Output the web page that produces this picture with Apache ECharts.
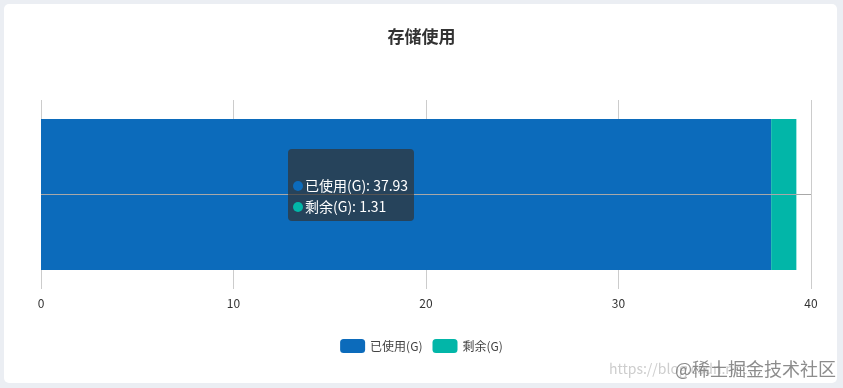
<!DOCTYPE html>
<html><head><meta charset="utf-8">
<script src="https://cdn.jsdelivr.net/npm/echarts@6/dist/echarts.min.js"></script>
<style>
html,body{margin:0;padding:0;width:843px;height:388px;background:#ebeef3;overflow:hidden;}
#card{position:absolute;left:4px;top:4px;width:833px;height:379px;background:#fff;border-radius:5px;}
#chart{position:absolute;left:0;top:0;width:843px;height:388px;}
</style></head>
<body><div id="card"></div><div id="chart"></div>
<script>
var categories = [''];
var seriesNames = ['已使用(G)', '剩余(G)'];
var usedValues = [37.93];
var freeValues = [1.31];
var xTicks = [0, 10, 20, 30, 40];

var font = '"Noto Sans CJK SC", "Noto Sans", sans-serif';
var chart = echarts.init(document.getElementById('chart'));
chart.setOption({
  backgroundColor: 'transparent',
  textStyle: {fontFamily: font},
  title: {text: '存储使用', left: 'center', top: 23,
    textStyle: {fontSize: 17, fontWeight: 'bold', color: '#333', fontFamily: font}},
  color: ['#0c6bbb', '#02b6a8'],
  tooltip: {
    trigger: 'axis', alwaysShowContent: true, triggerOn: 'none',
    backgroundColor: 'rgba(50,50,50,0.7)', borderWidth: 0, padding: [5, 6, 4, 5],
    textStyle: {color: '#fff', fontSize: 14, fontFamily: font},
    extraCssText: 'border-radius:4px;box-shadow:none;line-height:21px;',
    position: function () { return [288, 149]; },
    axisPointer: {type: 'line', lineStyle: {color: '#a8a8a8', width: 1, type: 'solid'}},
    formatter: function (params) {
      var s = params[0].name + '<br/>';
      params.forEach(function (p, i) {
        s += '<span style="display:inline-block;width:10px;height:10px;border-radius:5px;margin-right:2px;background:' + p.color + '"></span>' + p.seriesName + ': ' + p.value + (i < params.length - 1 ? '<br/>' : '');
      });
      return s;
    }
  },
  legend: {data: seriesNames, bottom: 30, left: 'center', itemWidth: 25, itemHeight: 14, itemGap: 10,
    textStyle: {fontSize: 12, color: '#444', fontFamily: font}},
  grid: {left: 41, right: 32, top: 100, bottom: 99},
  xAxis: {type: 'value', min: xTicks[0], max: xTicks[xTicks.length - 1], interval: 10,
    axisLine: {show: false}, axisTick: {show: false},
    axisLabel: {color: '#333', fontSize: 12, margin: 8, fontFamily: font},
    splitLine: {lineStyle: {color: '#ccc'}}},
  yAxis: {type: 'category', data: categories, axisLine: {show: false}, axisTick: {show: false}, axisLabel: {show: false}},
  series: [
    {name: seriesNames[0], type: 'bar', stack: 'total', barCategoryGap: '20%', emphasis: {disabled: true}, data: usedValues},
    {name: seriesNames[1], type: 'bar', stack: 'total', barCategoryGap: '20%', emphasis: {disabled: true}, data: freeValues}
  ],
  graphic: [
    {type: 'text', left: 609, top: 362, silent: true, style: {text: 'https://blog.csdn.net', fontSize: 14, fill: 'rgba(200,200,200,0.9)', fontFamily: font}},
    {type: 'text', right: 7, top: 360, silent: true, style: {text: '@稀土掘金技术社区', fontSize: 18, fill: 'rgba(120,120,120,0.85)', fontFamily: font}}
  ]
});
chart.dispatchAction({type: 'showTip', seriesIndex: 0, dataIndex: 0});
</script></body></html>
